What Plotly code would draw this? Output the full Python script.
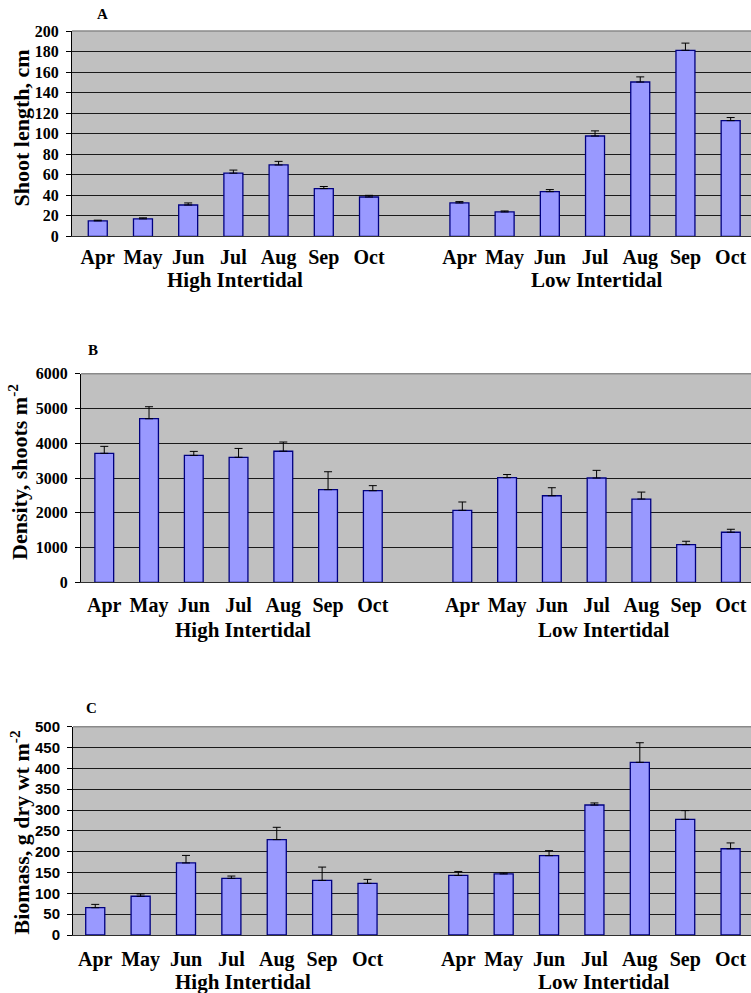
import plotly.graph_objects as go

# Sampling months and sites
months = ["Apr", "May", "Jun", "Jul", "Aug", "Sep", "Oct"]
sites = ["High Intertidal", "Low Intertidal"]

# Panel A: shoot length (cm), mean and standard error
length_high = [15, 17, 30.5, 61.5, 69.5, 46.5, 38.3]
length_high_se = [0.7, 1.0, 2.0, 3.0, 3.5, 2.0, 1.6]
length_low = [32.5, 23.7, 43.5, 97.7, 150.3, 181.2, 112.7]
length_low_se = [1.3, 1.0, 2.0, 5.0, 5.0, 7.0, 3.0]

# Panel B: shoot density (shoots m-2)
density_high = [3710, 4705, 3650, 3595, 3770, 2665, 2635]
density_high_se = [200, 345, 115, 255, 265, 515, 145]
density_low = [2070, 3010, 2490, 3000, 2395, 1085, 1440]
density_low_se = [240, 90, 230, 220, 200, 95, 85]

# Panel C: biomass (g dry wt m-2)
biomass_high = [65.5, 93, 173, 136, 229, 131, 124]
biomass_high_se = [8, 5.5, 18, 5.5, 29.5, 32, 9.5]
biomass_low = [143, 146.5, 190.5, 312, 414.5, 277.5, 207]
biomass_low_se = [9.5, 2.5, 12, 5, 47, 21, 14]

W, H = 751, 993


def px(x):
    return x / W


def py(y):
    return 1 - y / H


# x positions: high site at 0..6, one empty slot, low site at 8..14
n = len(months)
x_high = list(range(n))
x_low = [n + 1 + i for i in range(n)]
x_all = x_high + x_low

BAR_FILL = "#9999FF"
BAR_EDGE = "#000080"
SERIF = "Liberation Serif"
SANS = "Liberation Sans"

panels = [
    dict(key="", vals=length_high + length_low, se=length_high_se + length_low_se,
         left=72, top=31, bottom=236.3, rng=[0, 200], dtick=20,
         xr=[-0.57, 14.45], yfont=(SERIF, 16), ystand=4, xstand=3,
         title="Shoot length, cm", title_xy=(20.5, 128), letter="A", letter_xy=(102, 14),
         group_y=280, group_x=(235, 596)),
    dict(key="2", vals=density_high + density_low, se=density_high_se + density_low_se,
         left=81, top=373.7, bottom=582.3, rng=[0, 6000], dtick=1000,
         xr=[-0.52, 14.45], yfont=(SERIF, 16), ystand=4, xstand=5,
         title="Density, shoots m<sup>-2</sup>", title_xy=(18, 472), letter="B", letter_xy=(93, 350),
         group_y=630, group_x=(243, 603)),
    dict(key="3", vals=biomass_high + biomass_low, se=biomass_high_se + biomass_low_se,
         left=73, top=726.7, bottom=935, rng=[0, 500], dtick=50,
         xr=[-0.49, 14.45], yfont=(SANS, 15), ystand=4, xstand=6,
         title="Biomass, g dry wt m<sup>-2</sup>", title_xy=(19.5, 833), letter="C", letter_xy=(91.5, 708),
         group_y=982, group_x=(243, 603)),
]

fig = go.Figure()
layout = dict(
    width=W, height=H,
    margin=dict(l=0, r=0, t=0, b=0, autoexpand=False),
    paper_bgcolor="white",
    plot_bgcolor="#C0C0C0",
    showlegend=False,
    annotations=[],
    shapes=[],
)

for p in panels:
    k = p["key"]
    fig.add_trace(go.Bar(
        x=x_all, y=p["vals"],
        xaxis="x" + k, yaxis="y" + k,
        marker=dict(color=BAR_FILL, line=dict(color=BAR_EDGE, width=1.3)),
        width=0.42,
        error_y=dict(type="data", array=p["se"], arrayminus=[0] * len(p["se"]),
                     symmetric=False, color="black", thickness=1, width=4),
    ))
    xdom = [px(p["left"]), 1]
    ydom = [py(p["bottom"]), py(p["top"])]
    layout["xaxis" + k] = dict(
        domain=xdom, anchor="y" + k, range=p["xr"], automargin=False,
        tickmode="array", tickvals=x_all, ticktext=months + months,
        showgrid=False, zeroline=False, ticks="",
        showline=True, linecolor="#303030", linewidth=1,
        ticklabelstandoff=p["xstand"],
        tickfont=dict(family=SERIF, size=20, color="black", weight="bold"),
        fixedrange=True,
    )
    layout["yaxis" + k] = dict(
        domain=ydom, anchor="x" + k, range=p["rng"], dtick=p["dtick"], automargin=False,
        showgrid=True, gridcolor="#1a1a1a", gridwidth=1, zeroline=False,
        showline=True, linecolor="black", linewidth=1,
        ticks="outside", ticklen=5, tickcolor="black",
        ticklabelstandoff=p["ystand"],
        tickfont=dict(family=p["yfont"][0], size=p["yfont"][1], color="black", weight="bold"),
        fixedrange=True,
    )
    # grey frame line along the top of the plot area
    layout["shapes"].append(dict(
        type="line", xref="paper", yref="paper",
        x0=xdom[0], x1=1, y0=ydom[1], y1=ydom[1],
        line=dict(color="#8a8a8a", width=1.5),
    ))
    # y-axis title
    layout["annotations"].append(dict(
        text="<b>" + p["title"] + "</b>", xref="paper", yref="paper",
        x=px(p["title_xy"][0]), y=py(p["title_xy"][1]),
        xanchor="center", yanchor="middle", textangle=-90, showarrow=False,
        font=dict(family=SERIF, size=22, color="black"),
    ))
    # panel letter
    layout["annotations"].append(dict(
        text="<b>" + p["letter"] + "</b>", xref="paper", yref="paper",
        x=px(p["letter_xy"][0]), y=py(p["letter_xy"][1]),
        xanchor="center", yanchor="middle", showarrow=False,
        font=dict(family=SERIF, size=15, color="black"),
    ))
    # site labels under each group of months
    for s, gx in zip(sites, p["group_x"]):
        layout["annotations"].append(dict(
            text="<b>" + s + "</b>", xref="paper", yref="paper",
            x=px(gx), y=py(p["group_y"]),
            xanchor="center", yanchor="middle", showarrow=False,
            font=dict(family=SERIF, size=21, color="black"),
        ))

fig.update_layout(**layout)
fig.write_html("out.html")
